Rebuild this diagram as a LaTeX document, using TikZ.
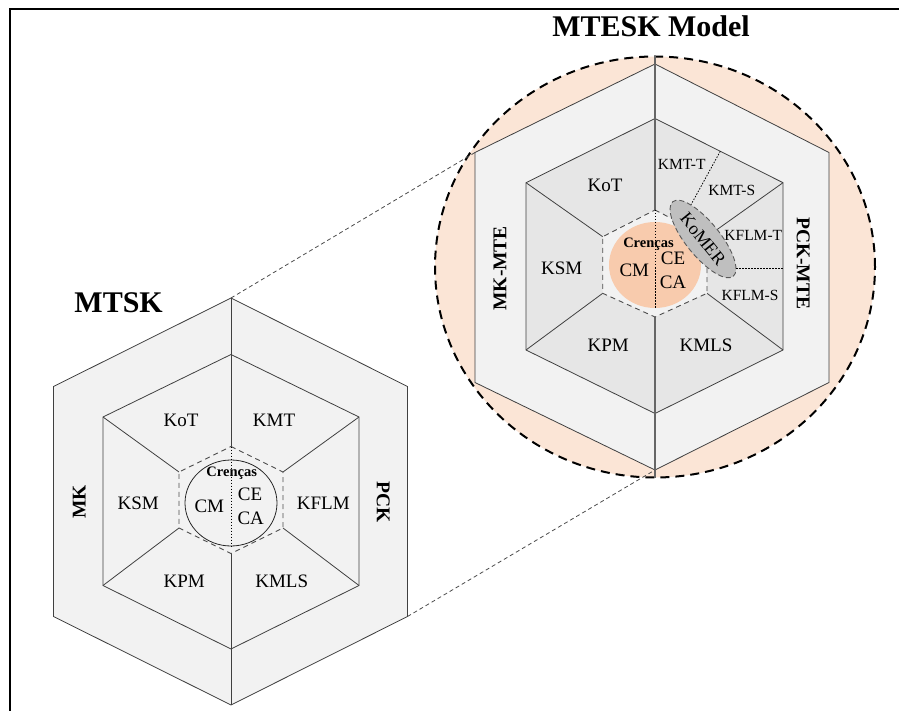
\documentclass[tikz,border=0pt]{standalone}
\usepackage{fontspec}
\setmainfont{Liberation Serif}
\usetikzlibrary{calc}
\usetikzlibrary{positioning}
\usetikzlibrary{shapes.geometric}
\definecolor{ringgray}{HTML}{F2F2F2}
\definecolor{midgray}{HTML}{E6E6E6}
\definecolor{peach}{HTML}{FBE5D6}
\definecolor{beliefcol}{HTML}{F8CBAD}
\definecolor{komergray}{HTML}{BFBFBF}

\begin{document}
\begin{tikzpicture}[x=1pt, y=-1pt,
    hexline/.style={draw=black!75, line width=0.8pt},
    midline/.style={draw=black!60, line width=1.3pt},
    innerhex/.style={draw=black!70, line width=0.9pt, dash pattern=on 5pt off 4pt},
    bigring/.style={draw=black, line width=2pt, dash pattern=on 9pt off 6pt},
    zoomline/.style={draw=black!70, line width=0.8pt, dash pattern=on 4pt off 3pt},
    dotline/.style={draw=black, line width=0.8pt, dash pattern=on 1.5pt off 1.5pt},
    lbl/.style={font=\fontsize{19}{19}\selectfont, inner sep=0pt},
    smalllbl/.style={font=\fontsize{15.5}{15.5}\selectfont, inner sep=0pt},
    sidelbl/.style={font=\bfseries\fontsize{19.5}{19.5}\selectfont, inner sep=0pt},
    crencalbl/.style={font=\bfseries\fontsize{14.5}{14.5}\selectfont, inner sep=0pt},
    titlelbl/.style={font=\bfseries\fontsize{30}{30}\selectfont, inner sep=0pt},
    komerbox/.style={ellipse, draw=black!65, line width=0.9pt, dash pattern=on 5pt off 3pt,
        fill=komergray, minimum width=96pt, minimum height=34pt, inner sep=0pt,
        font=\fontsize{18}{18}\selectfont}]

    \useasboundingbox (0,0) rectangle (899,711);
    \draw [line width=2pt] (899,9.5) -- (9.5,9.5) -- (9.5,711);

    % MTSK
    \begin{scope}[shift={(231,501.5)}]
        \coordinate (mo1) at (0,-203.5);
        \coordinate (mo2) at (176.5,-115);
        \coordinate (mo3) at (176.5,115);
        \coordinate (mo4) at (0,203.5);
        \coordinate (mo5) at (-177.5,115);
        \coordinate (mo6) at (-177.5,-115);
        \coordinate (mm1) at (0,-147);
        \coordinate (mm2) at (128,-84.5);
        \coordinate (mm3) at (128,84);
        \coordinate (mm4) at (0,147.5);
        \coordinate (mm5) at (-128,84);
        \coordinate (mm6) at (-128,-84.5);
        \coordinate (mi1) at (0,-55);
        \coordinate (mi2) at (52,-29.5);
        \coordinate (mi3) at (52,26.5);
        \coordinate (mi4) at (0,52);
        \coordinate (mi5) at (-52,26.5);
        \coordinate (mi6) at (-52,-29.5);
        \coordinate (mcb) at (0,44.5);

        \filldraw [hexline, fill=ringgray] (mo1) -- (mo2) -- (mo3) -- (mo4) -- (mo5) -- (mo6) -- cycle;
        \filldraw [hexline, fill=ringgray] (mm1) -- (mm2) -- (mm3) -- (mm4) -- (mm5) -- (mm6) -- cycle;
        \draw [hexline] (mo1) -- (mi1) (mi4) -- (mo4);
        \draw [hexline] (mm2) -- (mi2) (mm3) -- (mi3) (mm5) -- (mi5) (mm6) -- (mi6);
        \filldraw [innerhex, fill=ringgray] (mi1) -- (mi2) -- (mi3) -- (mi4) -- (mi5) -- (mi6) -- cycle;
        \draw [hexline, draw=black!85] (0,1.5) ellipse (46pt and 43pt);
        \draw [dotline] (mi1) -- (mcb);

        \node [lbl] (kot1) at (-50,-80.8) {KoT};
        \node [lbl] (kmt1) at (43,-80.8) {KMT};
        \node [lbl] (ksm1) at (-92.7,1.8) {KSM};
        \node [lbl] (kflm1) at (92.3,1.8) {KFLM};
        \node [lbl] (kpm1) at (-46.7,80.2) {KPM};
        \node [lbl] (kmls1) at (50.7,80.2) {KMLS};
        \node [crencalbl] (cren1) at (0.7,-28) {Crenças};
        \node [lbl] (cm1) at (-21.7,5.2) {CM};
        \node [lbl] (ce1) at (19,-7.2) {CE};
        \node [lbl] (ca1) at (19.7,16.8) {CA};
        \node [sidelbl, rotate=90] (mk1) at (-151.7,0.2) {MK};
        \node [sidelbl, rotate=-90] (pck1) at (152.3,0.2) {PCK};
    \end{scope}
    \node [titlelbl, left=68pt of mo1, yshift=-5pt] (mtsk) {MTSK};

    % MTESK Model
    \begin{scope}[shift={(655,267)}]
        \coordinate (tet) at (0,-210.5);
        \coordinate (teb) at (0,210.5);
        \coordinate (to1) at (0,-203);
        \coordinate (to2) at (174,-114.5);
        \coordinate (to3) at (174,115.5);
        \coordinate (to4) at (0,203);
        \coordinate (to5) at (-180,115.5);
        \coordinate (to6) at (-180,-114.5);
        \coordinate (tm1) at (0,-148.5);
        \coordinate (tm2) at (128,-84.3);
        \coordinate (tm3) at (128,83);
        \coordinate (tm4) at (0,146.5);
        \coordinate (tm5) at (-129,83);
        \coordinate (tm6) at (-129,-84.3);
        \coordinate (ti1) at (0,-57);
        \coordinate (ti2) at (52,-30.3);
        \coordinate (ti3) at (52,26.3);
        \coordinate (ti4) at (0,50);
        \coordinate (ti5) at (-52.3,26.3);
        \coordinate (ti6) at (-52.3,-30.3);
        \coordinate (tcb) at (0,41);
        \coordinate (kmtcut) at ($(tm1)!0.51!(tm2)$);

        \filldraw [bigring, fill=peach] (0,0) ellipse (220pt and 210.5pt);
        \filldraw [hexline, fill=ringgray] (to1) -- (to2) -- (to3) -- (to4) -- (to5) -- (to6) -- cycle;
        \filldraw [hexline, fill=midgray] (tm1) -- (tm2) -- (tm3) -- (tm4) -- (tm5) -- (tm6) -- cycle;
        \draw [midline] (tet) -- (ti1) (ti4) -- (teb);
        \draw [hexline] (tm2) -- (ti2) (tm3) -- (ti3) (tm5) -- (ti5) (tm6) -- (ti6);
        \filldraw [innerhex, fill=ringgray] (ti1) -- (ti2) -- (ti3) -- (ti4) -- (ti5) -- (ti6) -- cycle;
        \fill [beliefcol] (0,-2) ellipse (46pt and 43pt);
        \draw [dotline] (ti1) -- (tcb);

        \node [komerbox, rotate=-51] (komer) at (48,-28) {KoMER};
        \draw [dotline] (kmtcut) -- (komer.north west);
        \draw [dotline] (komer.10) -- (komer.10 -| tm3);

        \node [lbl] (kot2) at (-50,-82) {KoT};
        \node [smalllbl] (kmtt) at (26.7,-103) {KMT-T};
        \node [smalllbl] (kmts) at (76.7,-76.3) {KMT-S};
        \node [smalllbl] (kflmt) at (98.3,-31.3) {KFLM-T};
        \node [smalllbl] (kflms) at (95,28.7) {KFLM-S};
        \node [lbl] (ksm2) at (-93.3,1.3) {KSM};
        \node [lbl] (kpm2) at (-46.7,78.7) {KPM};
        \node [lbl] (kmls2) at (51,78.7) {KMLS};
        \node [crencalbl] (cren2) at (-6.5,-22.5) {Crenças};
        \node [lbl] (cm2) at (-20.7,3.7) {CM};
        \node [lbl] (ce2) at (18,-8.7) {CE};
        \node [lbl] (ca2) at (18,15.7) {CA};
        \node [sidelbl, rotate=90] (mkmte) at (-155,1.3) {MK-MTE};
        \node [sidelbl, rotate=-90] (pckmte) at (148.3,-3.7) {PCK-MTE};
    \end{scope}
    \node [titlelbl, above=20pt of tet, xshift=-4pt] (mtesk) {MTESK Model};

    % zoom lines
    \draw [zoomline] (mo1) -- (to6);
    \draw [zoomline] (mo3) -- (to4);
\end{tikzpicture}
\end{document}
